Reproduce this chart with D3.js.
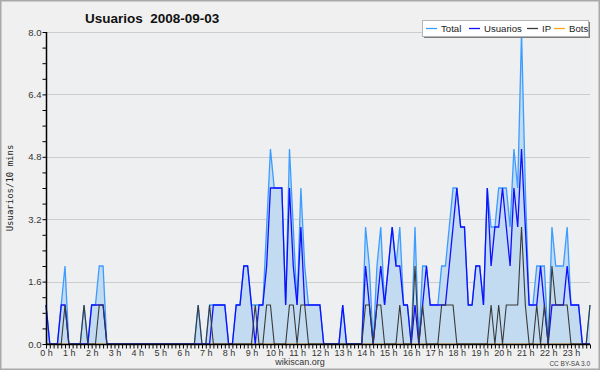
<!DOCTYPE html>
<html><head><meta charset="utf-8">
<script src="https://cdn.jsdelivr.net/npm/d3@7"></script>
<style>body{margin:0;background:#fff}svg{display:block}</style>
</head><body>
<svg id="c" width="600" height="370"></svg>
<script>
// 144 points, one per 10 minutes
const usuarios = [1,0,0,0,1,1,0,0,0,0,0,0,1,1,1,1,0,0,0,0,0,0,0,0,
  0,0,0,0,0,0,0,0,0,0,0,0,0,0,0,0,0,0,0,0,1,1,1,1,0,0,
  1,1,2,2,1,0,1,1,2,4,4,4,4,1,4,2,1,3,1,1,1,1,1,0,0,0,0,0,1,0,
  0,0,0,0,2,1,0,1,2,1,2,3,2,2,1,1,0,1,0,1,2,1,1,1,1,1,2,3,4,3,
  3,1,1,2,2,1,4,2,3,3,4,3,2,4,3,5,3,1,1,1,2,1,0,1,1,1,1,2,1,1,
  1,0,0,0];
const ip = [0,0,0,0,0,1,0,0,0,0,1,0,0,0,1,1,0,0,0,0,0,0,0,0,
  0,0,0,0,0,0,0,0,0,0,0,0,0,0,0,0,1,0,0,1,0,0,0,0,0,0,
  0,0,0,0,0,1,0,0,1,1,0,0,0,0,1,1,0,1,1,0,0,0,0,0,0,0,0,0,0,0,
  0,0,0,0,1,1,0,1,1,0,0,0,0,1,0,0,0,2,0,1,0,0,0,0,1,1,1,1,0,0,
  0,0,0,0,0,0,0,1,0,1,0,1,1,1,1,3,1,0,0,1,0,1,0,2,1,1,1,1,0,0,
  0,0,0,1];
const total = [1,0,0,0,1,2,0,0,0,0,1,0,1,1,2,2,0,0,0,0,0,0,0,0,
  0,0,0,0,0,0,0,0,0,0,0,0,0,0,0,0,1,0,0,1,1,1,1,1,0,0,
  1,1,2,2,1,1,1,1,3,5,4,4,4,1,5,3,1,4,2,1,1,1,1,0,0,0,0,0,1,0,
  0,0,0,0,3,2,0,2,3,1,2,3,2,3,1,1,0,3,0,2,2,1,1,1,2,2,3,4,4,3,
  3,1,1,2,2,1,4,3,3,4,4,4,3,5,4,8,4,1,1,2,2,2,0,3,2,2,2,3,1,1,
  1,0,0,1];
const bots = new Array(144).fill(0);
const yTicks = [0, 1.6, 3.2, 4.8, 6.4, 8.0];
const hours = d3.range(24);
const legendItems = [
  {name:"Total", color:"#3d9cff"},
  {name:"Usuarios", color:"#1010ff"},
  {name:"IP", color:"#3a3a3a"},
  {name:"Bots", color:"#ffa520"}
];
const title = "Usuarios\u00a0\u00a02008-09-03";
const yTitle = "Usuarios/10 mins";

const svg = d3.select("#c");
const L = 46, R = 590, T = 32, B = 344;
const x = d3.scaleLinear().domain([0, 143]).range([L, R]);
const y = d3.scaleLinear().domain([0, 8]).range([B, T]);
const font = "Liberation Sans, Arial, sans-serif";

svg.append("rect").attr("x",0.75).attr("y",0.75).attr("width",598.5).attr("height",368.5)
  .attr("fill","#f0f0f0").attr("stroke","#a9a9a9").attr("stroke-width",1.5);
svg.append("rect").attr("x",L).attr("y",T).attr("width",R-L).attr("height",B-T).attr("fill","#eeeff1");

// grid
svg.append("g").selectAll("line").data(yTicks.slice(1)).join("line")
  .attr("x1",L).attr("x2",R).attr("y1",d=>Math.round(y(d))+0.5).attr("y2",d=>Math.round(y(d))+0.5)
  .attr("stroke","#cdcdcd").attr("stroke-width",1);

const idx = d3.range(144);
const area = d3.area().x(i=>x(i)).y0(y(0)).y1(i=>y(total[i]));
svg.append("path").attr("d", area(idx)).attr("fill","#c3dbf0");

function line(arr){ return d3.line().x(i=>x(i)).y(i=>y(arr[i]))(idx); }
svg.append("path").attr("d", line(bots)).attr("fill","none").attr("stroke",legendItems[3].color).attr("stroke-width",1.2);
svg.append("path").attr("d", line(total)).attr("fill","none").attr("stroke",legendItems[0].color).attr("stroke-width",1.3);
svg.append("path").attr("d", line(usuarios)).attr("fill","none").attr("stroke",legendItems[1].color).attr("stroke-width",1.3);
svg.append("path").attr("d", line(ip)).attr("fill","none").attr("stroke",legendItems[2].color).attr("stroke-width",1.1);

// y axis
const yAxis = d3.axisLeft(y).tickValues(d3.range(0, 8.01, 0.4)).tickSize(4)
  .tickFormat(d => yTicks.some(t=>Math.abs(t-d)<1e-6) ? d.toFixed(1) : "");
const gy = svg.append("g").attr("transform",`translate(${L+0.5},0)`).call(yAxis);
gy.select(".domain").attr("stroke","#000").attr("stroke-width",1.5).attr("d",`M0,${T}V${B}`);
gy.selectAll(".tick line").attr("stroke","#000");
gy.selectAll(".tick text").attr("font-family",font).attr("font-size","9.5px").attr("fill","#333").attr("x",-5);

// x axis
const xAxis = d3.axisBottom(x).tickValues(idx).tickSize(4)
  .tickFormat(i => i % 6 === 0 ? `${hours[i/6]} h` : "");
const gx = svg.append("g").attr("transform",`translate(0,${B+0.5})`).call(xAxis);
gx.select(".domain").attr("stroke","#000").attr("stroke-width",1.5).attr("d",`M${L},0H${R}`);
gx.selectAll(".tick line").attr("stroke","#000");
gx.selectAll(".tick text").attr("font-family",font).attr("font-size","9px").attr("fill","#333").attr("y",5);

// titles
svg.append("text").attr("x",85).attr("y",23).text(title)
  .attr("font-family",font).attr("font-weight","bold").attr("font-size","13.5px").attr("fill","#111");
svg.append("text").attr("transform","translate(13,188) rotate(-90)").attr("text-anchor","middle")
  .text(yTitle).attr("font-family","DejaVu Sans Mono, monospace").attr("font-size","9px").attr("fill","#222");
svg.append("text").attr("x",300).attr("y",365).attr("text-anchor","middle").text("wikiscan.org")
  .attr("font-family",font).attr("font-size","9px").attr("fill","#333");
svg.append("text").attr("x",590).attr("y",366).attr("text-anchor","end").text("CC BY-SA 3.0")
  .attr("font-family",font).attr("font-size","6.5px").attr("fill","#444");

// legend
const lg = svg.append("g");
lg.append("rect").attr("x",424).attr("y",22).attr("width",166).attr("height",16).attr("fill","#7a7a7a");
lg.append("rect").attr("x",422.5).attr("y",20.5).attr("width",166).attr("height",16).attr("fill","#fff").attr("stroke","#b5b5b5");
const lx = [426, 469, 527, 554];
legendItems.forEach((d,k)=>{
  lg.append("line").attr("x1",lx[k]).attr("x2",lx[k]+11).attr("y1",28.5).attr("y2",28.5).attr("stroke",d.color).attr("stroke-width",1.3);
  lg.append("text").attr("x",lx[k]+15).attr("y",32).text(d.name)
    .attr("font-family",font).attr("font-size","9.6px").attr("fill","#222");
});
</script>
</body></html>
